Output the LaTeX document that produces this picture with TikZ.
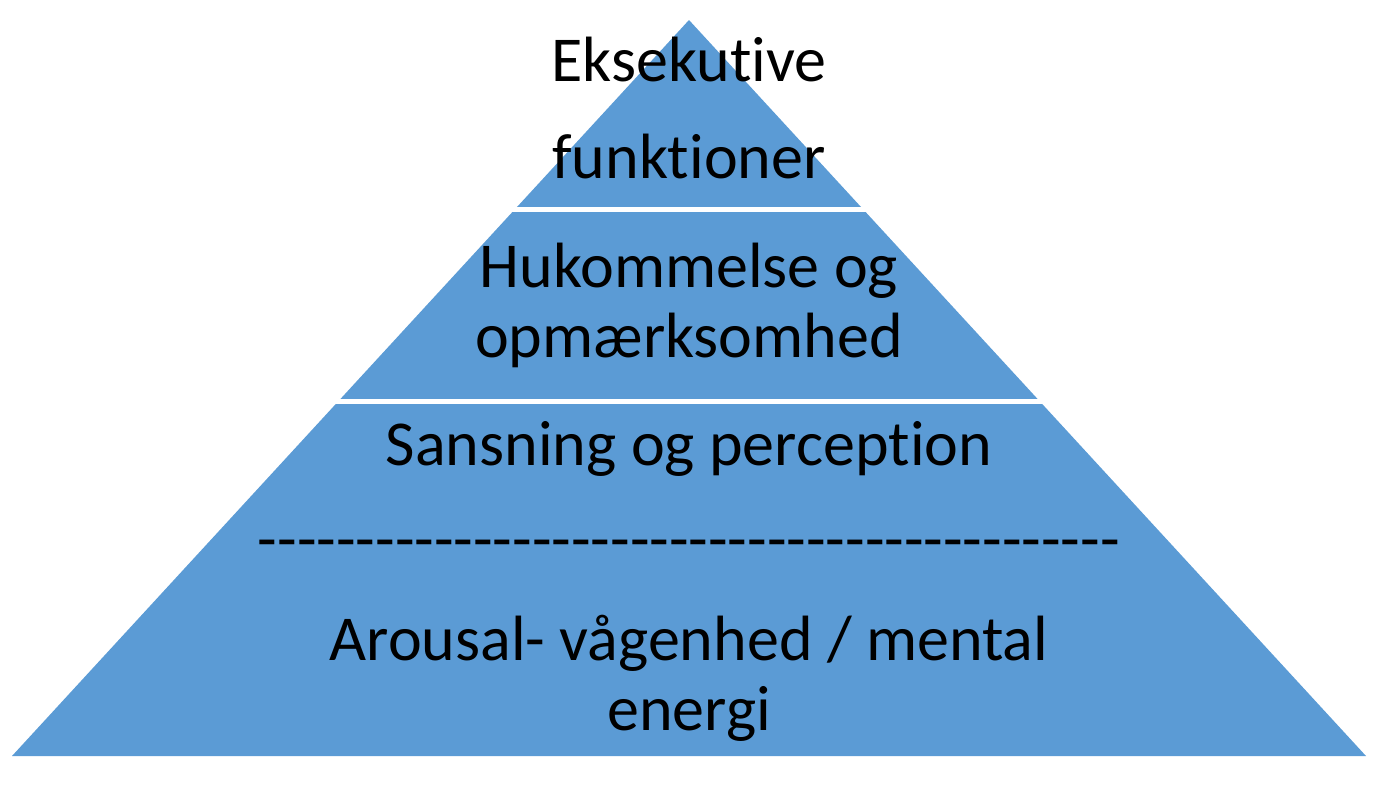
\documentclass[tikz,border=0pt]{standalone}
\usepackage{fontspec}
\setmainfont{Carlito}[Ligatures={TeX,CommonOff}]
\newfontfamily\dashfont{Carlito}[Ligatures={TeXOff,CommonOff}]
\usetikzlibrary{calc}

\definecolor{pyrblue}{RGB}{91,155,213}
\newcommand{\dashrow}{\foreach \i in {1,...,44}{-\kern0pt}}

\tikzset{
  layertext/.style={anchor=base, align=center, inner sep=0pt, text=black,
    font=\fontsize{32}{35}\selectfont},
}

\begin{document}
\begin{tikzpicture}[x=0.5pt,y=-0.5pt]
  % page size as in the reference (pixels)
  \useasboundingbox (0,0) rectangle (1378,788);

  \coordinate (apex) at (689,20);
  \coordinate (bl) at (12,756);
  \coordinate (br) at (1366,756);

  % pyramid, cut in three layers by white gaps
  \begin{scope}
    \clip (apex) -- (bl) -- (br) -- cycle;
    \fill[pyrblue] (0,0) rectangle (1378,207);
    \fill[pyrblue] (0,212) rectangle (1378,399);
    \fill[pyrblue] (0,404) rectangle (1378,788);
  \end{scope}

  % top layer (base = last line)
  \node[layertext] (eksek) at (689,178) {Eksekutive\\[13.5pt]funktioner};

  % middle layer
  \node[layertext] (huk) at (689,357) {Hukommelse og\\opmærksomhed};

  % bottom layer
  \node[layertext] (sans) at (689,465) {Sansning og perception};
  \node[layertext] (dash) at (689,560) {\dashfont\dashrow};
  \node[layertext] (arousal) at (689,730) {Arousal- vågenhed / mental\\energi};

\end{tikzpicture}
\end{document}
